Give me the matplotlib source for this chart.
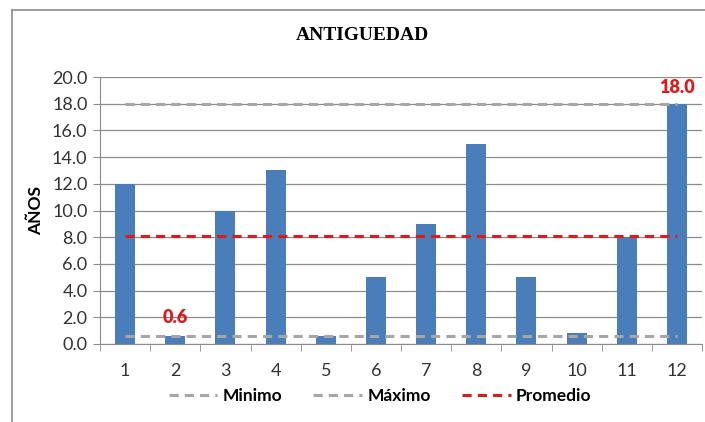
import matplotlib
matplotlib.use("Agg")
import matplotlib.pyplot as plt
from matplotlib.lines import Line2D
import numpy as np

categories = ["1", "2", "3", "4", "5", "6", "7", "8", "9", "10", "11", "12"]
antiguedad = [12.0, 0.6, 10.0, 13.0, 0.6, 5.0, 9.0, 15.0, 5.0, 0.8, 8.0, 18.0]
minimo = [0.6] * 12
maximo = [18.0] * 12
promedio = [8.08] * 12
yticks = [0, 2, 4, 6, 8, 10, 12, 14, 16, 18, 20]

plt.rcParams['font.family'] = ['Lato', 'DejaVu Sans']

fig = plt.figure(figsize=(7.05, 4.22), dpi=100)
bx, by = 12/705, 1 - 10/422
fig.lines.append(Line2D([bx, 1.0], [by, by], transform=fig.transFigure, color='#8c8c8c', linewidth=1.2))
fig.lines.append(Line2D([bx, bx], [0.0, by], transform=fig.transFigure, color='#8c8c8c', linewidth=1.2))
ax = fig.add_axes([100/705, 1 - 344/422, 602/705, 267/422])

x = np.arange(len(categories))
ax.bar(x, antiguedad, width=0.4, color='#4a7ebb', zorder=2)
ax.plot(x, minimo, linestyle=(0, (3, 2)), color='#a6a6a6', linewidth=2.2, zorder=3, label='Minimo')
ax.plot(x, maximo, linestyle=(0, (3, 2)), color='#a6a6a6', linewidth=2.2, zorder=3, label='Máximo')
ax.plot(x, promedio, linestyle=(0, (3, 2)), color='#e0191a', linewidth=2.2, zorder=3, label='Promedio')

ax.text(x[1], minimo[1] + 0.75, f"{minimo[1]:.1f}", color='#e0191a', fontsize=13,
        fontweight='heavy', ha='center', va='bottom')
ax.text(x[11], maximo[11] + 0.6, f"{maximo[11]:.1f}", color='#e0191a', fontsize=13,
        fontweight='heavy', ha='center', va='bottom')

ax.set_xlim(-0.5, len(categories) - 0.5)
ax.set_ylim(0, 20)
ax.set_yticks(yticks)
ax.set_yticklabels([f"{v:.1f}" for v in yticks], fontsize=13, color='#333333')
ax.set_xticks(x)
ax.set_xticklabels(categories, fontsize=13, color='#333333')
ax.tick_params(axis='x', length=0, pad=14)
ax.set_xticks(np.arange(-0.5, len(categories), 1.0), minor=True)
ax.tick_params(axis='x', which='minor', length=5, color='#8c8c8c', direction='out')
ax.tick_params(axis='y', length=5, color='#8c8c8c', direction='out', pad=4)
ax.grid(axis='y', color='#8c8c8c', linewidth=0.9, zorder=0)
ax.set_axisbelow(True)
for s in ['top', 'right']:
    ax.spines[s].set_visible(False)
for s in ['left', 'bottom']:
    ax.spines[s].set_color('#8c8c8c')

ax.set_ylabel('AÑOS', fontsize=12.5, fontweight='bold', labelpad=6)
fig.text(362/705, 1 - 36/422, 'ANTIGUEDAD', family='Liberation Serif', fontsize=14,
         fontweight='bold', ha='center', va='center')

leg = ax.legend(loc='center', bbox_to_anchor=(380/705, 1 - 396/422), bbox_transform=fig.transFigure,
                ncol=3, frameon=False, prop={'weight': 'bold', 'size': 12.5},
                handlelength=2.8, columnspacing=1.8, handletextpad=0.3)

fig.savefig('out.png', dpi=100)
